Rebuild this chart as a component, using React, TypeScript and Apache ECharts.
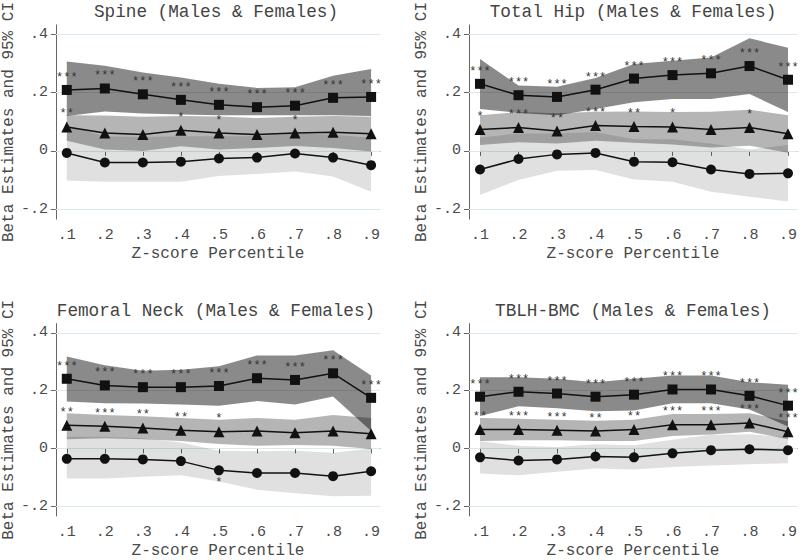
import React, { useEffect, useRef } from "react";
import * as echarts from "echarts";

// x positions and labels
const xs = [0.1, 0.2, 0.3, 0.4, 0.5, 0.6, 0.7, 0.8, 0.9];
const xTickLabels = [".1", ".2", ".3", ".4", ".5", ".6", ".7", ".8", ".9"];
const yTicks = [-0.2, 0, 0.2, 0.4];
const yTickLabels = ["-.2", "0", ".2", ".4"];

const panelTitles = [
  "Spine (Males & Females)",
  "Total Hip (Males & Females)",
  "Femoral Neck (Males & Females)",
  "TBLH-BMC (Males & Females)",
];

// Spine
const spineSqEst = [0.209, 0.214, 0.194, 0.175, 0.158, 0.15, 0.155, 0.182, 0.185];
const spineSqLo = [0.12, 0.135, 0.128, 0.125, 0.122, 0.122, 0.122, 0.122, 0.12];
const spineSqHi = [0.307, 0.292, 0.269, 0.252, 0.23, 0.216, 0.218, 0.258, 0.281];
const spineTrEst = [0.082, 0.061, 0.056, 0.071, 0.061, 0.056, 0.061, 0.064, 0.059];
const spineTrLo = [0.035, 0.005, 0.0, 0.016, 0.005, 0.01, 0.017, 0.01, -0.002];
const spineTrHi = [0.122, 0.121, 0.117, 0.12, 0.118, 0.113, 0.117, 0.12, 0.117];
const spineCiEst = [-0.007, -0.04, -0.04, -0.037, -0.026, -0.023, -0.009, -0.023, -0.049];
const spineCiLo = [-0.102, -0.106, -0.106, -0.106, -0.086, -0.079, -0.071, -0.088, -0.14];
const spineCiHi = [0.088, 0.05, 0.048, 0.05, 0.05, 0.05, 0.06, 0.055, 0.045];
const spineSqStars = ["***", "***", "***", "***", "***", "***", "***", "***", "***"];
const spineTrStars = ["**", "", "", "*", "*", "", "*", "", ""];
const spineCiStars = ["", "", "", "", "", "", "", "", ""];

// Total Hip
const hipSqEst = [0.23, 0.191, 0.185, 0.21, 0.248, 0.26, 0.266, 0.291, 0.244];
const hipSqLo = [0.144, 0.13, 0.122, 0.144, 0.167, 0.178, 0.178, 0.195, 0.133];
const hipSqHi = [0.315, 0.224, 0.22, 0.25, 0.298, 0.309, 0.32, 0.386, 0.354];
const hipTrEst = [0.073, 0.08, 0.068, 0.087, 0.084, 0.082, 0.073, 0.08, 0.059];
const hipTrLo = [0.02, 0.03, 0.025, 0.035, 0.028, 0.022, 0.012, 0.018, -0.006];
const hipTrHi = [0.122, 0.133, 0.129, 0.134, 0.135, 0.133, 0.134, 0.141, 0.122];
const hipCiEst = [-0.064, -0.028, -0.012, -0.007, -0.037, -0.039, -0.064, -0.079, -0.077];
const hipCiLo = [-0.151, -0.1, -0.068, -0.066, -0.098, -0.106, -0.14, -0.157, -0.174];
const hipCiHi = [0.045, 0.06, 0.06, 0.065, 0.04, 0.04, 0.025, 0.005, 0.02];
const hipSqStars = ["***", "***", "***", "***", "***", "***", "***", "***", "***"];
const hipTrStars = ["*", "***", "**", "***", "**", "*", "", "*", ""];
const hipCiStars = ["", "", "", "", "", "", "", "", ""];

// Femoral Neck
const fnSqEst = [0.241, 0.218, 0.212, 0.212, 0.216, 0.243, 0.237, 0.26, 0.175];
const fnSqLo = [0.162, 0.156, 0.155, 0.152, 0.148, 0.164, 0.152, 0.18, 0.06];
const fnSqHi = [0.318, 0.288, 0.269, 0.272, 0.284, 0.322, 0.322, 0.34, 0.252];
const fnTrEst = [0.08, 0.077, 0.071, 0.063, 0.058, 0.06, 0.054, 0.06, 0.051];
const fnTrLo = [0.032, 0.035, 0.032, 0.026, 0.015, 0.009, 0.012, 0.009, -0.002];
const fnTrHi = [0.122, 0.116, 0.111, 0.105, 0.099, 0.105, 0.099, 0.116, 0.105];
const fnCiEst = [-0.036, -0.036, -0.038, -0.044, -0.076, -0.085, -0.085, -0.096, -0.079];
const fnCiLo = [-0.104, -0.104, -0.098, -0.093, -0.115, -0.143, -0.155, -0.166, -0.164];
const fnCiHi = [0.04, 0.04, 0.035, 0.02, -0.008, -0.01, -0.008, -0.015, 0.0];
const fnSqStars = ["***", "***", "***", "***", "***", "***", "***", "***", "***"];
const fnTrStars = ["**", "***", "**", "**", "*", "", "", "", ""];
const fnCiStars = ["", "", "", "", "*", "", "", "", ""];

// TBLH-BMC
const tbSqEst = [0.179, 0.196, 0.19, 0.179, 0.186, 0.204, 0.204, 0.182, 0.148];
const tbSqLo = [0.112, 0.146, 0.139, 0.129, 0.131, 0.156, 0.156, 0.135, 0.076];
const tbSqHi = [0.246, 0.246, 0.241, 0.229, 0.241, 0.252, 0.252, 0.229, 0.22];
const tbTrEst = [0.065, 0.065, 0.063, 0.06, 0.065, 0.082, 0.082, 0.088, 0.058];
const tbTrLo = [0.026, 0.028, 0.028, 0.026, 0.026, 0.043, 0.048, 0.058, 0.032];
const tbTrHi = [0.105, 0.103, 0.099, 0.096, 0.099, 0.119, 0.119, 0.122, 0.094];
const tbCiEst = [-0.031, -0.042, -0.038, -0.028, -0.031, -0.017, -0.006, -0.003, -0.006];
const tbCiLo = [-0.087, -0.093, -0.081, -0.07, -0.073, -0.064, -0.059, -0.055, -0.051];
const tbCiHi = [0.025, 0.009, 0.005, 0.014, 0.011, 0.03, 0.047, 0.049, 0.039];
const tbSqStars = ["***", "***", "***", "***", "***", "***", "***", "***", "***"];
const tbTrStars = ["**", "***", "***", "**", "**", "***", "***", "***", "***"];
const tbCiStars = ["", "", "", "", "", "", "", "", ""];

const FONT = "'Liberation Mono', 'Courier New', monospace";
const TEXT = "#4a4a4a";

type Ser = { est: number[]; lo: number[]; hi: number[]; stars: string[] };
const panels: { sq: Ser; tr: Ser; ci: Ser }[] = [
  {
    sq: { est: spineSqEst, lo: spineSqLo, hi: spineSqHi, stars: spineSqStars },
    tr: { est: spineTrEst, lo: spineTrLo, hi: spineTrHi, stars: spineTrStars },
    ci: { est: spineCiEst, lo: spineCiLo, hi: spineCiHi, stars: spineCiStars },
  },
  {
    sq: { est: hipSqEst, lo: hipSqLo, hi: hipSqHi, stars: hipSqStars },
    tr: { est: hipTrEst, lo: hipTrLo, hi: hipTrHi, stars: hipTrStars },
    ci: { est: hipCiEst, lo: hipCiLo, hi: hipCiHi, stars: hipCiStars },
  },
  {
    sq: { est: fnSqEst, lo: fnSqLo, hi: fnSqHi, stars: fnSqStars },
    tr: { est: fnTrEst, lo: fnTrLo, hi: fnTrHi, stars: fnTrStars },
    ci: { est: fnCiEst, lo: fnCiLo, hi: fnCiHi, stars: fnCiStars },
  },
  {
    sq: { est: tbSqEst, lo: tbSqLo, hi: tbSqHi, stars: tbSqStars },
    tr: { est: tbTrEst, lo: tbTrLo, hi: tbTrHi, stars: tbTrStars },
    ci: { est: tbCiEst, lo: tbCiLo, hi: tbCiHi, stars: tbCiStars },
  },
];

const gridPos = [
  { left: 52, top: 23.6 },
  { left: 469, top: 23.6 },
  { left: 52, top: 323.6 },
  { left: 469, top: 323.6 },
];
const GW = 328;
const GH = 195.5;

function bandSeries(k: number, s: Ser, color: string) {
  return {
    type: "custom",
    xAxisIndex: k,
    yAxisIndex: k,
    z: 2,
    silent: true,
    data: xs.map((x, i) => [x, s.lo[i], s.hi[i]]),
    encode: { x: 0, y: [1, 2] },
    renderItem: (params: any, api: any) => {
      if (params.dataIndex !== 0) return null;
      const top = xs.map((x, i) => api.coord([x, s.hi[i]]));
      const bot = xs.map((x, i) => api.coord([x, s.lo[i]])).reverse();
      return {
        type: "polygon",
        shape: { points: top.concat(bot) },
        style: { fill: color },
      };
    },
  };
}

const starLabel = {
  color: "#333",
  fontSize: 12,
  fontFamily: FONT,
  textBorderWidth: 0,
  textShadowBlur: 0,
};

function lineSeries(k: number, s: Ser, symbol: string, size: number, below = false) {
  return {
    type: "line",
    xAxisIndex: k,
    yAxisIndex: k,
    z: 3,
    silent: true,
    color: "#111",
    symbol,
    symbolSize: size,
    itemStyle: { color: "#111" },
    lineStyle: { color: "#111", width: 1.5 },
    labelLayout: { hideOverlap: false },
    data: xs.map((x, i) => ({
      value: [x, s.est[i]],
      label: {
        ...starLabel,
        show: !!s.stars[i],
        position: below ? "bottom" : "top",
        distance: below ? 2 : 1,
      },
    })),
    label: {
      ...starLabel,
      show: true,
      position: "top",
      distance: 1,
      formatter: (p: any) => s.stars[p.dataIndex] || "",
    },
  };
}

export default function App() {
  const ref = useRef<HTMLDivElement>(null);
  useEffect(() => {
    if (!ref.current) return;
    const chart = echarts.init(ref.current, undefined, { renderer: "svg" });
    const grids = gridPos.map((g) => ({ left: g.left, top: g.top, width: GW, height: GH }));
    const xAxes = gridPos.map((_, k) => ({
      type: "value",
      gridIndex: k,
      min: 0.0714,
      max: 0.9234,
      name: "Z-score Percentile",
      nameLocation: "middle",
      nameGap: 27,
      nameTextStyle: { fontFamily: FONT, fontSize: 16, color: TEXT, verticalAlign: "top" },
      axisLine: { show: true, lineStyle: { color: "#666", width: 1 } },
      axisTick: { show: true, length: 5, lineStyle: { color: "#666" }, customValues: xs },
      axisLabel: {
        customValues: xs,
        margin: 9,
        fontFamily: FONT,
        fontSize: 15,
        color: TEXT,
        formatter: (v: number) => {
          const i = xs.findIndex((x) => Math.abs(x - v) < 1e-6);
          return i >= 0 ? xTickLabels[i] : "";
        },
      },
      splitLine: { show: false },
    }));
    const yAxes = gridPos.map((_, k) => ({
      type: "value",
      gridIndex: k,
      min: -0.234,
      max: 0.432,
      name: "Beta Estimates and 95% CI",
      nameLocation: "middle",
      nameGap: k % 2 === 0 ? 34 : 36,
      nameTextStyle: { fontFamily: FONT, fontSize: 16, color: TEXT },
      axisLine: { show: true, lineStyle: { color: "#666", width: 1 } },
      axisTick: { show: true, length: 5, lineStyle: { color: "#666" }, customValues: yTicks },
      axisLabel: {
        customValues: yTicks,
        margin: 8,
        fontFamily: FONT,
        fontSize: 15,
        color: TEXT,
        formatter: (v: number) => {
          const i = yTicks.findIndex((t) => Math.abs(t - v) < 1e-6);
          return i >= 0 ? yTickLabels[i] : "";
        },
      },
      splitLine: { show: false },
    }));

    const series: any[] = [];
    panels.forEach((p, k) => {
      // gridlines
      series.push({
        type: "line",
        xAxisIndex: k,
        yAxisIndex: k,
        z: 1,
        silent: true,
        data: [],
        markLine: {
          silent: true,
          z: 1,
          symbol: ["none", "none"],
          label: { show: false },
          lineStyle: { color: "#d8eaea", width: 1, type: "solid" },
          data: yTicks.map((t) => ({ yAxis: t })),
        },
      });
      series.push(bandSeries(k, p.ci, "rgba(0,0,0,0.12)"));
      series.push(bandSeries(k, p.tr, "rgba(0,0,0,0.29)"));
      series.push(bandSeries(k, p.sq, "rgba(0,0,0,0.46)"));
      series.push(lineSeries(k, p.ci, "circle", 10, true));
      series.push(lineSeries(k, p.tr, "triangle", 11));
      series.push(lineSeries(k, p.sq, "rect", 10));
    });

    const titleGraphics = panelTitles.map((t, k) => ({
      type: "text",
      x: gridPos[k].left + GW / 2,
      y: k < 2 ? 12 : 311,
      style: {
        text: t,
        align: "center",
        verticalAlign: "middle",
        fontFamily: FONT,
        fontSize: 17.7,
        fill: "#444",
      },
    }));

    chart.setOption({
      animation: false,
      backgroundColor: "#fff",
      grid: grids,
      xAxis: xAxes,
      yAxis: yAxes,
      series,
      graphic: titleGraphics,
    });
    return () => chart.dispose();
  }, []);
  return (
    <div
      ref={ref}
      style={{ position: "fixed", left: 0, top: 0, width: 800, height: 560, background: "#fff" }}
    />
  );
}
